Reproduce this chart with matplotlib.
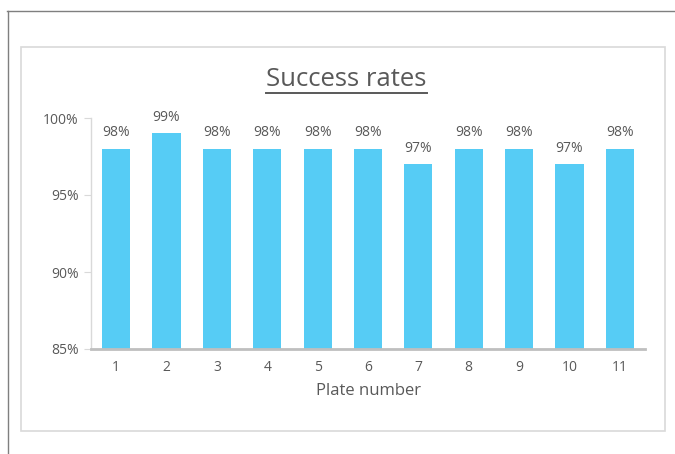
import matplotlib
matplotlib.use("Agg")
import matplotlib.pyplot as plt
from matplotlib.patches import Rectangle
from matplotlib.lines import Line2D
from matplotlib.ticker import FuncFormatter

plates = ["1", "2", "3", "4", "5", "6", "7", "8", "9", "10", "11"]
rates = [98, 99, 98, 98, 98, 98, 97, 98, 98, 97, 98]
y_ticks = [85, 90, 95, 100]

plt.rcParams["font.family"] = ["Open Sans", "DejaVu Sans"]
text_color = "#595959"
bar_color = "#56CCF5"

W, H = 675, 454
fig = plt.figure(figsize=(W / 100, H / 100), dpi=100)

def px(x, y):
    return x / W, 1 - y / H

# outer frame lines
fig.add_artist(Line2D([7 / W, 1], [1 - 11 / H] * 2, color="#7f7f7f", lw=1.0))
fig.add_artist(Line2D([8 / W] * 2, [1 - 11 / H, 0], color="#7f7f7f", lw=1.0))
# chart area border
x0, y0 = px(21, 431)
x1, y1 = px(665, 47)
fig.add_artist(Rectangle((x0, y0), x1 - x0, y1 - y0, transform=fig.transFigure,
                         fill=False, edgecolor="#d9d9d9", lw=1.2))

left, bottom = px(91, 349)
right, top = px(645, 118)
ax = fig.add_axes([left, bottom, right - left, top - bottom])

xs = range(len(plates))
bars = ax.bar(xs, rates, width=0.56, color=bar_color, zorder=2)
for x, v in zip(xs, rates):
    ax.annotate(f"{v}%", (x, v), xytext=(0, 6), textcoords="offset points",
                ha="center", va="bottom", fontsize=10, color=text_color)

ax.set_xlim(-0.5, len(plates) - 0.5)
ax.set_ylim(85, 100)
ax.set_yticks(y_ticks)
ax.yaxis.set_major_formatter(FuncFormatter(lambda v, p: f"{v:.0f}%"))
ax.set_xticks(list(xs))
ax.set_xticklabels(plates)

for s in ["top", "right"]:
    ax.spines[s].set_visible(False)
ax.spines["left"].set_color("#d9d9d9")
ax.spines["left"].set_linewidth(1.0)
ax.spines["bottom"].set_color("#bfbfbf")
ax.spines["bottom"].set_linewidth(2.0)
ax.spines["bottom"].set_zorder(3)
ax.tick_params(axis="y", length=5, color="#d9d9d9", labelsize=10,
               labelcolor=text_color, pad=4)
ax.tick_params(axis="x", length=0, labelsize=10, labelcolor=text_color, pad=8)
ax.set_xlabel("Plate number", fontsize=12, color=text_color, labelpad=6)

# title with underline
tx, ty = px(346, 79)
fig.text(tx, ty, "Success rates", ha="center", va="center", fontsize=18.5,
         color=text_color)
fig.add_artist(Line2D([266 / W, 427 / W], [1 - 93 / H] * 2, color=text_color, lw=1.4))

fig.savefig("out.png", dpi=100)
